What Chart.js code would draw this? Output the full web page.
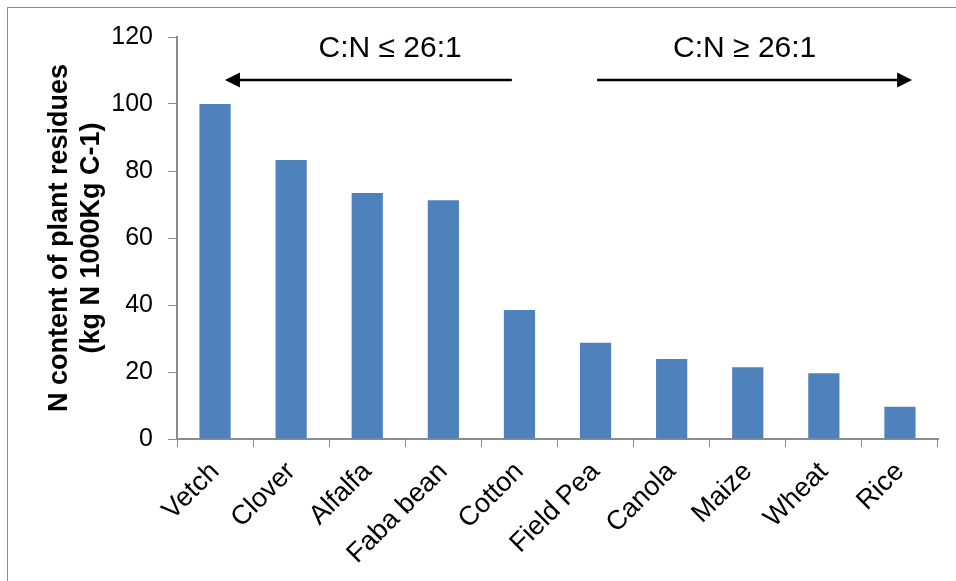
<!DOCTYPE html>
<html>
<head>
<meta charset="utf-8">
<script src="https://cdn.jsdelivr.net/npm/chart.js@4/dist/chart.umd.min.js"></script>
<style>
  html, body { margin:0; padding:0; background:#fff; overflow:hidden; }
  #frame { position:absolute; left:7px; top:7px; width:1200px; height:900px; border:1px solid #8c8c8c; }
  #wrap { position:absolute; left:0; top:0; width:956px; height:581px; }
</style>
</head>
<body>
<div id="frame"></div>
<div id="wrap"><canvas id="c" width="956" height="581"></canvas></div>
<script>
const categories = ["Vetch","Clover","Alfalfa","Faba bean","Cotton","Field Pea","Canola","Maize","Wheat","Rice"];
const nContent = [100, 83.3, 73.4, 71.3, 38.5, 28.7, 23.9, 21.4, 19.6, 9.6];
const yTicks = [0, 20, 40, 60, 80, 100, 120];
const yTitle = ["N content of plant residues", "(kg N 1000Kg C-1)"];
const annotations = [
  { text: "C:N \u2264 26:1", from: 3.9, to: 0.13, textAt: 2.3 },
  { text: "C:N \u2265 26:1", from: 5.02, to: 9.16, textAt: 6.96 }
];
const arrowLevel = 107.2;
const textLevel = 116.4;

const arrowPlugin = {
  id: 'arrows',
  afterDatasetsDraw(chart) {
    const ctx = chart.ctx, xs = chart.scales.x, ys = chart.scales.y;
    ctx.save();
    ctx.strokeStyle = '#000'; ctx.fillStyle = '#000'; ctx.lineWidth = 2.5;
    annotations.forEach(a => {
      const x1 = xs.getPixelForValue(a.from), x2 = xs.getPixelForValue(a.to);
      const y = ys.getPixelForValue(arrowLevel);
      const dir = Math.sign(x2 - x1);
      ctx.beginPath(); ctx.moveTo(x1, y); ctx.lineTo(x2 - dir * 10, y); ctx.stroke();
      ctx.beginPath();
      ctx.moveTo(x2, y); ctx.lineTo(x2 - dir * 15, y - 7.5); ctx.lineTo(x2 - dir * 15, y + 7.5); ctx.closePath(); ctx.fill();
      ctx.font = '30px "Liberation Sans", Arial, sans-serif';
      ctx.textAlign = 'center'; ctx.textBaseline = 'middle';
      ctx.fillText(a.text, xs.getPixelForValue(a.textAt), ys.getPixelForValue(textLevel));
    });
    ctx.restore();
  }
};

new Chart(document.getElementById('c'), {
  type: 'bar',
  data: {
    labels: categories,
    datasets: [{
      data: nContent,
      backgroundColor: '#4F81BD',
      borderWidth: 0,
      categoryPercentage: 1,
      barPercentage: 0.41
    }]
  },
  plugins: [arrowPlugin],
  options: {
    responsive: false,
    animation: false,
    devicePixelRatio: 1,
    layout: { padding: { top: 37, right: 18, left: 0, bottom: 0 } },
    plugins: { legend: { display: false }, tooltip: { enabled: false } },
    scales: {
      x: {
        grid: { drawOnChartArea: false, drawTicks: true, tickLength: 8, color: '#8c8c8c', offset: true },
        border: { color: '#8c8c8c', width: 2 },
        ticks: {
          color: '#000',
          font: { family: '"Liberation Sans", Arial, sans-serif', size: 27 },
          maxRotation: 45, minRotation: 45, padding: 9, autoSkip: false
        },
        afterFit: s => { s.height = 142; }
      },
      y: {
        min: 0, max: 120,
        afterBuildTicks: s => { s.ticks = yTicks.map(v => ({ value: v })); },
        grid: { drawOnChartArea: false, drawTicks: true, tickLength: 9, color: '#8c8c8c' },
        border: { color: '#8c8c8c', width: 2 },
        ticks: {
          color: '#000',
          font: { family: '"Liberation Sans", Arial, sans-serif', size: 25 },
          padding: 15
        },
        title: {
          display: true,
          text: yTitle,
          color: '#000',
          font: { family: '"Liberation Sans", Arial, sans-serif', size: 27, weight: 'bold', lineHeight: 1.2 },
          padding: { top: 43, bottom: 0 }
        },
        afterFit: s => { s.width = 177; }
      }
    }
  }
});
</script>
</body>
</html>
